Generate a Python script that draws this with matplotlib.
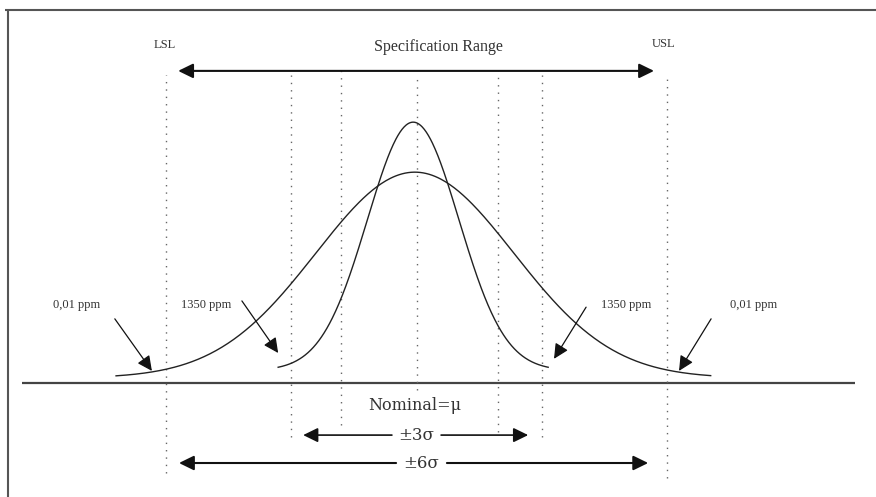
import numpy as np
import matplotlib
matplotlib.use("Agg")
import matplotlib.pyplot as plt

# ---- data (x in units of the drawing; 0 = nominal) ----
ref_line_x = [-6.0, -3.0, -1.8, 0.0, 1.95, 3.0, 6.0]
ref_line_top = [7.39, 7.39, 7.63, 7.39, 7.49, 7.39, 7.39]
ref_line_bottom = [-2.16, -1.30, -1.01, -0.17, -1.18, -1.30, -2.28]

# wide (±3 sigma) process curve
wide_mu, wide_sigma, wide_peak, wide_base = -0.04, 2.376, 4.94, 0.12
wide_range = (-7.21, 7.06)
# narrow (±6 sigma) process curve
narrow_mu, narrow_sigma, narrow_peak, narrow_base = -0.08, 1.10, 6.02, 0.30
narrow_range = (-3.32, 3.16)

limit_labels = ["LSL", "USL"]
ppm_labels = ["0,01 ppm", "1350 ppm", "1350 ppm", "0,01 ppm"]

S = 41.67  # px per unit
W, H = 876, 497
cx, by = 416.5, 383.0

fig = plt.figure(figsize=(W / 100, H / 100), dpi=100)
ax = fig.add_axes([0, 0, 1, 1])
ax.set_xlim((0 - cx) / S, (W - cx) / S)
ax.set_ylim((by - H) / S, by / S)
ax.axis("off")

serif = ["Liberation Serif", "DejaVu Serif"]
tc = "#333333"
lc = "#222222"

# frame (top and left)
ax.plot([(5 - cx) / S, (W - cx) / S], [(by - 10) / S] * 2, color="#555555", lw=1.5,
        solid_capstyle="butt")
ax.plot([(8 - cx) / S] * 2, [(by - 10) / S, (by - H) / S], color="#555555", lw=1.5,
        solid_capstyle="butt")

# baseline
ax.plot([(22 - cx) / S, (855 - cx) / S], [0, 0], color="#444444", lw=1.6,
        solid_capstyle="butt")

# dotted reference lines
for x, t, b in zip(ref_line_x, ref_line_top, ref_line_bottom):
    ax.plot([x, x], [b, t], color="#666666", lw=1.0, linestyle=(0, (1, 4.3)))

# curves
xw = np.linspace(*wide_range, 400)
yw = wide_base + wide_peak * np.exp(-(xw - wide_mu) ** 2 / (2 * wide_sigma ** 2))
ax.plot(xw, yw, color=lc, lw=1.0)
xn = np.linspace(*narrow_range, 400)
yn = narrow_base + (narrow_peak - (narrow_base - 0.24)) * np.exp(
    -(xn - narrow_mu) ** 2 / (2 * narrow_sigma ** 2))
ax.plot(xn, yn, color=lc, lw=1.0)


def arrow(x0, y0, x1, y1, lw=1.0, style="-|>,head_length=0.45,head_width=0.22", ms=20):
    ax.annotate("", xy=(x1, y1), xytext=(x0, y0),
                arrowprops=dict(arrowstyle=style, color="#111111", lw=lw,
                                mutation_scale=ms, shrinkA=0, shrinkB=0))


# specification range
ax.text(-6.04, 8.11, limit_labels[0], ha="center", va="center", fontsize=9,
        family=serif, color=tc)
ax.text(5.92, 8.14, limit_labels[1], ha="center", va="center", fontsize=9,
        family=serif, color=tc)
ax.text(0.52, 8.06, "Specification Range", ha="center", va="center", fontsize=11.5,
        family=serif, color=tc)
arrow(-5.72, 7.49, 5.70, 7.49, lw=1.5,
      style="<|-|>,head_length=0.45,head_width=0.22")

# ppm labels and arrows
ppm_pos = [-8.15, -5.05, 5.03, 8.10]
for x, lab in zip(ppm_pos, ppm_labels):
    ax.text(x, 1.87, lab, ha="center", va="center", fontsize=9, family=serif, color=tc)
arrow(-7.24, 1.54, -6.35, 0.29, lw=0.9)
arrow(-4.19, 1.97, -3.32, 0.72, lw=0.9)
arrow(4.07, 1.82, 3.30, 0.58, lw=0.9)
arrow(7.07, 1.54, 6.30, 0.29, lw=0.9)

# nominal and sigma ranges
ax.text(-0.04, -0.53, "Nominal=\u03bc", ha="center", va="center", fontsize=11.5,
        family=["DejaVu Serif"], color=tc)
ax.text(0.0, -1.25, "\u00b13\u03c3", ha="center", va="center", fontsize=12,
        family=["DejaVu Serif"], color=tc)
arrow(-0.59, -1.25, -2.72, -1.25, lw=1.2)
arrow(0.59, -1.25, 2.68, -1.25, lw=1.2)
ax.text(0.1, -1.92, "\u00b16\u03c3", ha="center", va="center", fontsize=12,
        family=["DejaVu Serif"], color=tc)
arrow(-0.49, -1.92, -5.70, -1.92, lw=1.5)
arrow(0.73, -1.92, 5.56, -1.92, lw=1.5)

fig.savefig("out.png", dpi=100, facecolor="white")
